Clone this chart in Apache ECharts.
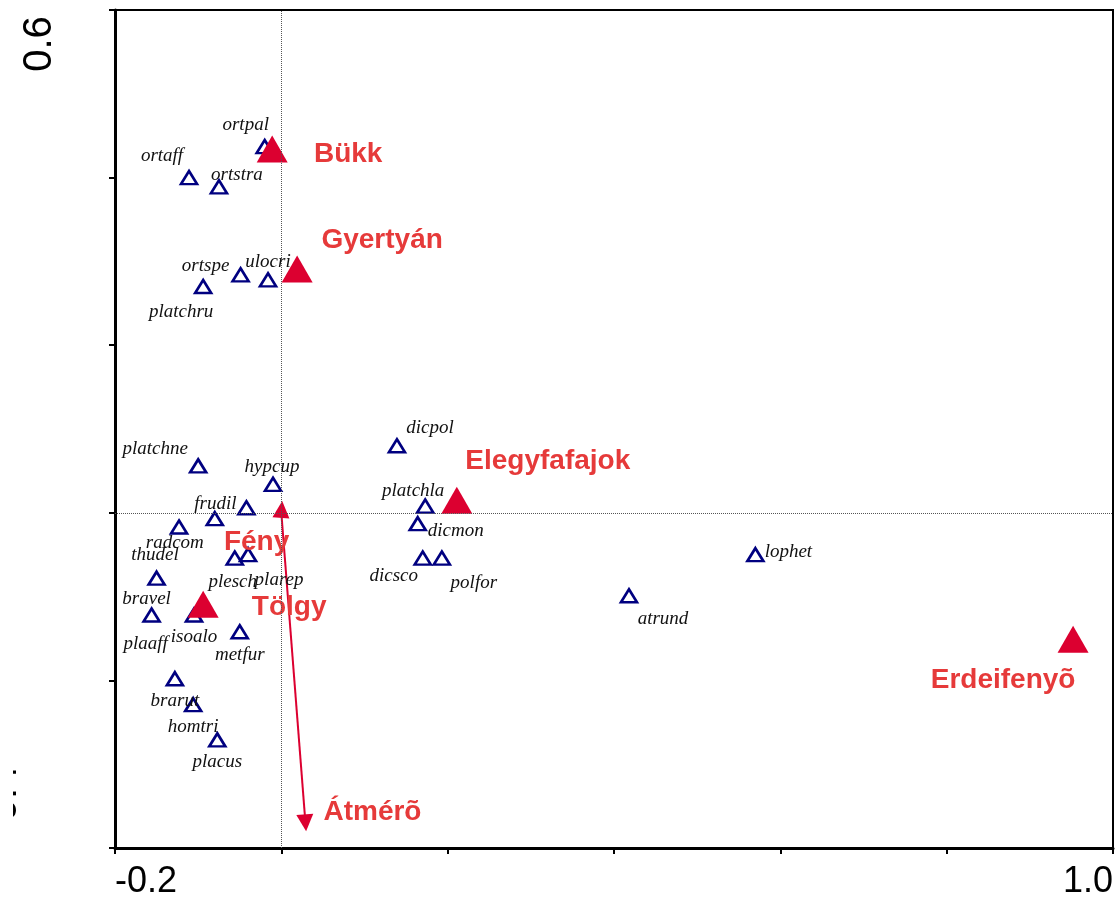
<!DOCTYPE html>
<html>

<head>
    <meta charset="utf-8">
    <script type="text/javascript" src="https://cdn.jsdelivr.net/npm/echarts@6/dist/echarts.min.js"></script>
    <title>CCA ordináció</title>
</head>

<body style="margin:0">
    <div id="container" style="width:1118px;height:900px;"></div>
    <script type="text/javascript">
    // fajok (kék háromszögek)
    var speciesNames = ['ortpal', 'ortaff', 'ortstra', 'ortspe', 'ulocri', 'platchru', 'platchne', 'hypcup',
        'frudil', 'radcom', 'thudel', 'bravel', 'plaaff', 'isoalo', 'plesch', 'plarep', 'metfur', 'brarut',
        'homtri', 'placus', 'dicpol', 'platchla', 'dicmon', 'dicsco', 'polfor', 'atrund', 'lophet'];
    var speciesX = [-0.020, -0.111, -0.075, -0.049, -0.016, -0.094, -0.100, -0.010,
        -0.042, -0.080, -0.123, -0.150, -0.156, -0.105, -0.056, -0.040, -0.050, -0.128,
        -0.106, -0.077, 0.139, 0.173, 0.164, 0.170, 0.193, 0.418, 0.570];
    var speciesY = [0.437, 0.400, 0.389, 0.284, 0.278, 0.270, 0.056, 0.034,
        0.006, -0.007, -0.017, -0.078, -0.122, -0.122, -0.054, -0.050, -0.142, -0.198,
        -0.229, -0.271, 0.080, 0.008, -0.013, -0.054, -0.054, -0.099, -0.050];

    // nominális változók (piros háromszögek)
    var centroidNames = ['Bükk', 'Gyertyán', 'Elegyfafajok', 'Tölgy', 'Erdeifenyõ'];
    var centroidX = [-0.011, 0.019, 0.211, -0.094, 0.952];
    var centroidY = [0.434, 0.291, 0.015, -0.109, -0.151];

    // folytonos változók (nyilak)
    var arrowNames = ['Fény', 'Átmérõ'];
    var arrowX = [0.0003, 0.029];
    var arrowY = [0.004, -0.370];

    // tengelyfeliratok
    var xTickValues = [-0.2, 1.0];
    var xTickLabels = ['-0.2', '1.0'];
    var yTickValues = [-0.4, 0.6];
    var yTickLabels = ['-0.4', '0.6'];

    // címkék eltolása pixelben
    var speciesLabelOffset = {
        ortpal: [-19, -22], ortaff: [-27, -22], ortstra: [18, -12], ortspe: [-35, -9], ulocri: [0, -18],
        platchru: [-22, 25], platchne: [-43, -17], hypcup: [-1, -17], frudil: [-31, -4], radcom: [-40, 24],
        thudel: [-24, 28], bravel: [-10, 21], plaaff: [-6, 29], isoalo: [0, 22], plesch: [-2, 24],
        plarep: [31, 25], metfur: [0, 23], brarut: [0, 22], homtri: [0, 22], placus: [0, 22],
        dicpol: [33, -18], platchla: [-12, -15], dicmon: [38, 7], dicsco: [-29, 18], polfor: [32, 25],
        atrund: [34, 23], lophet: [33, -3]
    };
    var centroidLabelOffset = [[76, 5], [85, -29], [91, -39], [86, 3], [-70, 41]];
    var arrowLabelOffset = [[-25, 33], [67, -11]];

    var red = '#dc0030';
    var redText = '#e63a3a';

    var myChart = echarts.init(document.getElementById('container'));

    var speciesData = speciesNames.map(function (n, i) {
        return { name: n, value: [speciesX[i], speciesY[i]], label: { offset: speciesLabelOffset[n] } };
    });
    var centroidData = centroidNames.map(function (n, i) {
        return { name: n, value: [centroidX[i], centroidY[i]], label: { offset: centroidLabelOffset[i] } };
    });
    var arrowLines = arrowNames.map(function (n, i) {
        return { name: n, coords: [[0, 0], [arrowX[i], arrowY[i]]] };
    });
    var arrowTips = arrowNames.map(function (n, i) {
        return { name: n, value: [arrowX[i], arrowY[i]], label: { offset: arrowLabelOffset[i] } };
    });

    function endLabel(values, labels) {
        return function (v) {
            for (var i = 0; i < values.length; i++) {
                if (Math.abs(v - values[i]) < 1e-6) return labels[i];
            }
            return '';
        };
    }

    var redLabel = {
        show: true, position: 'inside', formatter: '{b}',
        fontFamily: 'Liberation Sans, Arial', fontWeight: 'bold', fontSize: 28, color: redText
    };

    var option = {
        animation: false,
        grid: {
            left: 115, top: 10, right: 5, bottom: 52,
            show: true, borderColor: '#000', borderWidth: 2, backgroundColor: '#fff'
        },
        xAxis: {
            type: 'value', min: -0.2, max: 1.0, interval: 0.2,
            axisLine: { onZero: false, lineStyle: { color: '#000', width: 3 } },
            axisTick: { length: 6, lineStyle: { color: '#000', width: 2 } },
            splitLine: { show: false },
            axisLabel: {
                margin: 16, fontSize: 36, color: '#000', fontFamily: 'Liberation Sans, Arial',
                alignMinLabel: 'left', alignMaxLabel: 'right',
                formatter: endLabel(xTickValues, xTickLabels)
            }
        },
        yAxis: {
            type: 'value', min: -0.4, max: 0.6, interval: 0.2,
            axisLine: { onZero: false, lineStyle: { color: '#000', width: 3 } },
            axisTick: { length: 6, lineStyle: { color: '#000', width: 2 } },
            splitLine: { show: false },
            axisLabel: { show: false }
        },
        series: [{
            name: 'fajok',
            type: 'scatter',
            symbol: 'triangle',
            symbolSize: [16, 13],
            itemStyle: { color: 'rgba(0,0,0,0)', borderColor: '#000080', borderWidth: 2.6, opacity: 1 },
            label: {
                show: true, position: 'inside', formatter: '{b}',
                fontFamily: 'Liberation Serif, Times New Roman', fontStyle: 'italic',
                fontSize: 19, color: '#111'
            },
            markLine: {
                silent: true, symbol: 'none', label: { show: false },
                lineStyle: { type: 'dotted', color: '#555', width: 1 },
                data: [{ xAxis: 0 }, { yAxis: 0 }]
            },
            data: speciesData
        }, {
            name: 'nyilak',
            type: 'lines',
            coordinateSystem: 'cartesian2d',
            symbol: ['none', 'triangle'],
            symbolSize: 17,
            lineStyle: { color: red, width: 2, opacity: 1 },
            data: arrowLines
        }, {
            name: 'nyílhegyek',
            type: 'scatter',
            symbolSize: 1,
            itemStyle: { color: 'rgba(0,0,0,0)', opacity: 1 },
            label: redLabel,
            data: arrowTips
        }, {
            name: 'változók',
            type: 'scatter',
            symbol: 'triangle',
            symbolSize: [31, 27],
            itemStyle: { color: red, opacity: 1 },
            label: redLabel,
            data: centroidData
        }]
    };

    myChart.setOption(option);

    // függőleges tengely feliratai elforgatva
    var topPx = myChart.convertToPixel({ gridIndex: 0 }, [-0.2, yTickValues[1]]);
    var botPx = myChart.convertToPixel({ gridIndex: 0 }, [-0.2, yTickValues[0]]);
    var yLabelStyle = { fontSize: 40, fontFamily: 'Liberation Sans, Arial', fill: '#000', align: 'center', verticalAlign: 'middle' };
    myChart.setOption({
        graphic: [{
            type: 'text', x: topPx[0] - 75, y: topPx[1] + 34, rotation: Math.PI / 2,
            style: Object.assign({ text: yTickLabels[1] }, yLabelStyle)
        }, {
            type: 'text', x: botPx[0] - 110, y: botPx[1] - 48, rotation: Math.PI / 2,
            style: Object.assign({ text: yTickLabels[0] }, yLabelStyle)
        }, {
            // a bal szél levágva, mint az eredetin
            type: 'rect', z: 100, shape: { x: 0, y: botPx[1] - 110, width: 13, height: 110 },
            style: { fill: '#fff' }
        }]
    });
    </script>
</body>

</html>
